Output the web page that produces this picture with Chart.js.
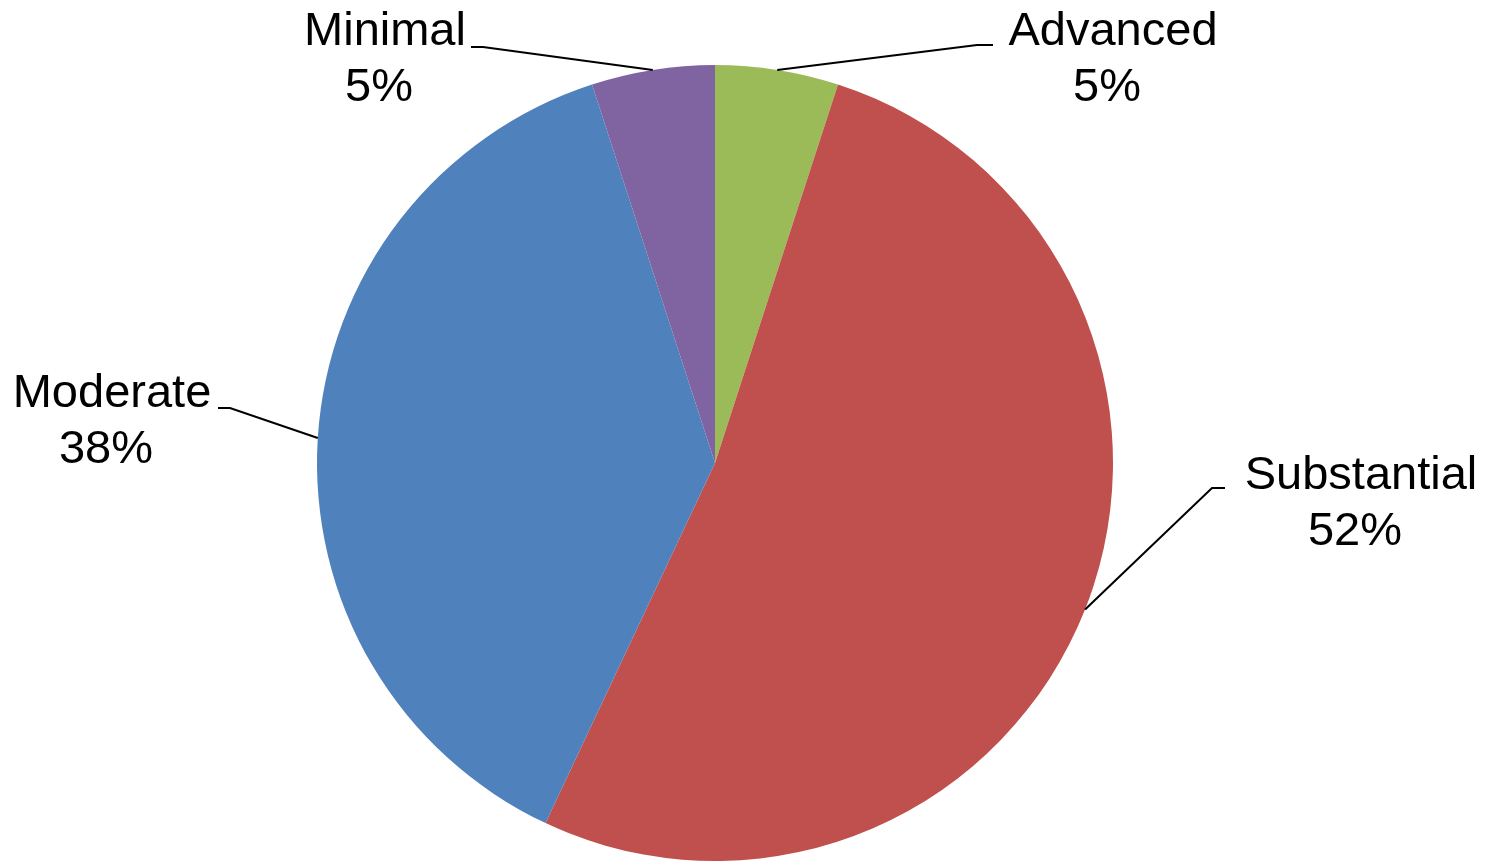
<!DOCTYPE html>
<html>
<head>
<meta charset="utf-8">
<script src="https://cdn.jsdelivr.net/npm/chart.js@4.4.0/dist/chart.umd.min.js"></script>
<style>
  body { margin: 0; background: #fff; }
  #pie { display: block; }
</style>
</head>
<body>
<canvas id="pie" width="1489" height="865"></canvas>
<script>
// data
const categories = ['Advanced', 'Substantial', 'Moderate', 'Minimal'];
const shares = [5, 52, 38, 5];
const sliceColors = ['#9BBB59', '#C0504D', '#4F81BD', '#8064A2'];

// where each callout sits: elbow of the leader, end of its short flat bit, text centre and first baseline
const callouts = [
  { elbow: [977, 45], end: [993, 45], tx: 1113, ty: 45 },
  { elbow: [1212, 488], end: [1225, 488], tx: 1361, ty: 489 },
  { elbow: [230, 408], end: [218, 408], tx: 112, ty: 407 },
  { elbow: [483, 47], end: [471, 47], tx: 385, ty: 45 }
];

const calloutPlugin = {
  id: 'callouts',
  afterDatasetsDraw(chart) {
    const ctx = chart.ctx;
    const meta = chart.getDatasetMeta(0);
    const total = shares.reduce((a, b) => a + b, 0);
    ctx.save();
    meta.data.forEach((arc, i) => {
      const p = arc.getProps(['x', 'y', 'startAngle', 'endAngle', 'outerRadius'], true);
      const mid = (p.startAngle + p.endAngle) / 2;
      const sx = p.x + Math.cos(mid) * p.outerRadius;
      const sy = p.y + Math.sin(mid) * p.outerRadius;
      const c = callouts[i];
      ctx.beginPath();
      ctx.moveTo(sx, sy);
      ctx.lineTo(c.elbow[0], c.elbow[1]);
      ctx.lineTo(c.end[0], c.end[1]);
      ctx.strokeStyle = '#000';
      ctx.lineWidth = 2;
      ctx.stroke();

      ctx.fillStyle = '#000';
      ctx.font = '47px "Liberation Sans", Arial, sans-serif';
      ctx.textAlign = 'center';
      ctx.textBaseline = 'alphabetic';
      ctx.fillText(categories[i], c.tx, c.ty);
      const pct = Math.round(shares[i] / total * 100) + '%';
      ctx.fillText(pct, c.tx - 6, c.ty + 56);
    });
    ctx.restore();
  }
};

new Chart(document.getElementById('pie'), {
  type: 'pie',
  data: {
    labels: categories,
    datasets: [{
      data: shares,
      backgroundColor: sliceColors,
      borderWidth: 0
    }]
  },
  options: {
    responsive: false,
    animation: false,
    layout: { padding: { top: 65, bottom: 4, left: 317, right: 376 } },
    plugins: {
      legend: { display: false },
      tooltip: { enabled: false }
    }
  },
  plugins: [calloutPlugin]
});
</script>
</body>
</html>
